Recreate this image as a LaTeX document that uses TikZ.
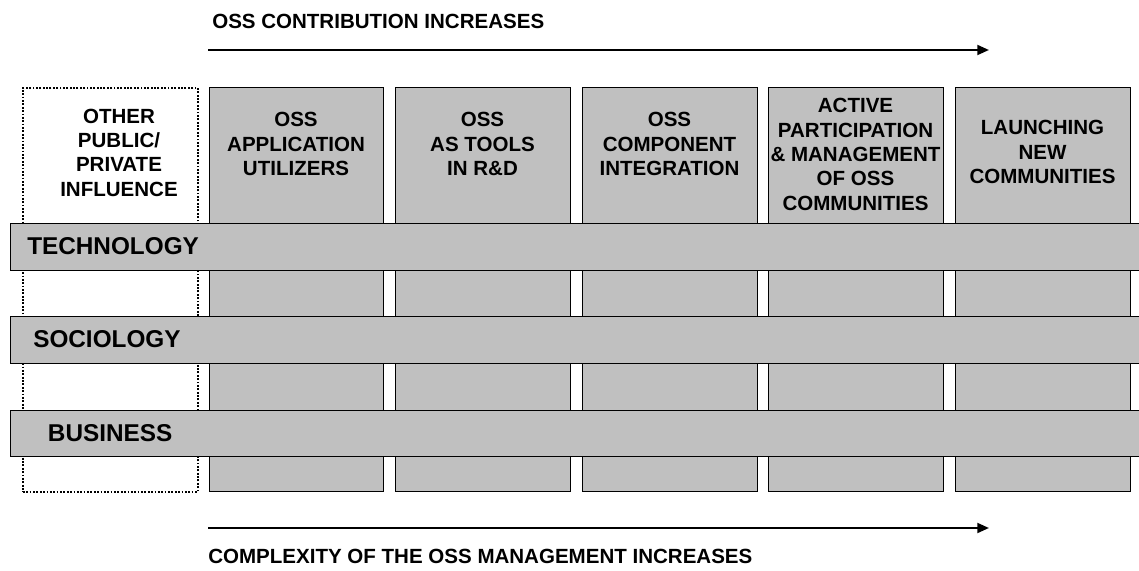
\documentclass[tikz,border=0pt]{standalone}
\usepackage{fontspec}
\setmainfont{Liberation Sans}
\usetikzlibrary{arrows.meta}

\definecolor{panel}{RGB}{192,192,192}

\tikzset{
	stage/.style={draw=black, fill=panel, line width=0.9pt, anchor=north west, inner sep=0pt,
		minimum width=175*0.025cm, minimum height=404*0.025cm},
	other/.style={stage, fill=white, dash pattern=on 1.3pt off 1.1pt, line width=1.3pt},
	band/.style={draw=black, fill=panel, line width=1pt, anchor=north west, inner sep=0pt,
		minimum width=1135*0.025cm},
	head/.style={align=center, inner sep=0pt, font=\bfseries\fontsize{14.6}{17.3}\selectfont},
	theme/.style={anchor=west, inner sep=0pt, font=\bfseries\fontsize{17.3}{20}\selectfont},
	caption/.style={anchor=west, inner sep=0pt, font=\bfseries\fontsize{14.6}{17.3}\selectfont},
	trend/.style={line width=1.6pt, -{Triangle[length=8.3pt,width=7pt]}}
}

\begin{document}
\begin{tikzpicture}[x=0.025cm, y=-0.025cm]
	\useasboundingbox (0,0) rectangle (1139,571);

	\node[other] (infl) at (22,87)  {};
	\node[stage, minimum width=174*0.025cm] (c1) at (209,87) {};
	\node[stage] (c2) at (395,87) {};
	\node[stage] (c3) at (582,87) {};
	\node[stage] (c4) at (768,87) {};
	\node[stage] (c5) at (955,87) {};

	\node[head] (tinfl) at (119,152.5)  {OTHER\\PUBLIC/\\PRIVATE\\INFLUENCE};
	\node[head] (t1)    at (296,144)    {OSS\\APPLICATION\\UTILIZERS};
	\node[head] (t2)    at (482.5,144)  {OSS\\AS TOOLS\\IN R\&D};
	\node[head] (t3)    at (669.5,144)  {OSS\\COMPONENT\\INTEGRATION};
	\node[head] (t4)    at (855.5,154.5){ACTIVE\\PARTICIPATION\\\& MANAGEMENT\\OF OSS\\COMMUNITIES};
	\node[head] (t5)    at (1042.5,152) {LAUNCHING\\NEW\\COMMUNITIES};

	\node[band, minimum height=47*0.025cm] (tech) at (10,223) {};
	\node[band, minimum height=47*0.025cm] (soc)  at (10,316) {};
	\node[band, minimum height=46*0.025cm] (bus)  at (10,410) {};

	\node[theme] (ltech) at (27,246.5)   {TECHNOLOGY};
	\node[theme] (lsoc)  at (33,339.5)   {SOCIOLOGY};
	\node[theme] (lbus)  at (47.7,433)   {BUSINESS};

	\coordinate (top0) at (208,50);
	\coordinate (top1) at (989,50);
	\coordinate (bot0) at (208,528);
	\coordinate (bot1) at (989,528);
	\draw[trend] (top0) -- (top1);
	\draw[trend] (bot0) -- (bot1);

	\node[caption] (ctop) at (212,21)  {OSS CONTRIBUTION INCREASES};
	\node[caption] (cbot) at (208,556) {COMPLEXITY OF THE OSS MANAGEMENT INCREASES};
\end{tikzpicture}
\end{document}
